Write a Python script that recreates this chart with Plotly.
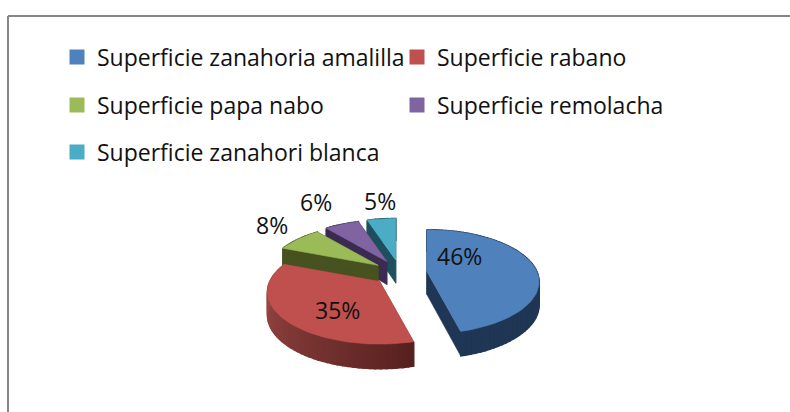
import math
import plotly.graph_objects as go

categories = ["Superficie zanahoria amalilla", "Superficie rabano", "Superficie papa nabo",
              "Superficie remolacha", "Superficie zanahori blanca"]
values = [46, 35, 8, 6, 5]
top_colors = ["#4f81bd", "#c0504d", "#9bbb59", "#8064a2", "#4bacc6"]
wall_colors = ["#1f3654", "#8a3d3a", "#46521f", "#3b2b52", "#1d4f5c"]

W, H = 790, 412
CX, CY = 400, 273      # pie centre in the pixel-like axis
EX, EY = 27, 13        # explosion offset
A, C, B = 110, 50, 0.2 # ellipse radii and perspective
DEPTH = 23

def project(theta):
    u, v = math.sin(theta), -math.cos(theta)
    k = 1 / (1 - B * v)
    return A * u * k, C * v * k, k ** 0.3

def lerp_color(c1, c2, t):
    a = [int(c1[i:i+2], 16) for i in (1, 3, 5)]
    b = [int(c2[i:i+2], 16) for i in (1, 3, 5)]
    return "#" + "".join(f"{round(x + (y - x) * t):02x}" for x, y in zip(a, b))

def poly(xs, ys, color, width=0.6):
    return go.Scatter(x=xs, y=ys, mode="lines", fill="toself", fillcolor=color,
                      line=dict(color=color, width=width), showlegend=False, hoverinfo="skip")

total = sum(values)
spans, acc = [], 0
for val in values:
    spans.append((acc / total * 2 * math.pi, (acc + val) / total * 2 * math.pi))
    acc += val

fig = go.Figure()
for i in [4, 3, 2, 0, 1]:   # back to front
    t0, t1 = spans[i]
    mid = (t0 + t1) / 2
    ax = CX + EX * math.sin(mid)
    ay = CY - EY * math.cos(mid)
    n = max(6, int((t1 - t0) / 0.04))
    thetas = [t0 + (t1 - t0) * j / n for j in range(n + 1)]
    pts = [project(t) for t in thetas]
    outer = [(ax + p[0], ay + p[1], p[2]) for p in pts]
    # radial walls
    for p in (outer[0], outer[-1]):
        fig.add_trace(poly([ax, p[0], p[0], ax, ax],
                           [ay, p[1], p[1] + DEPTH * p[2], ay + DEPTH, ay], wall_colors[i]))
    # outer wall strip
    for j in range(n):
        p, q = outer[j], outer[j + 1]
        if i == 1:
            col = lerp_color("#56211f", "#a84f4b", (j / (n - 1)) ** 0.9)
        else:
            col = wall_colors[i]
        fig.add_trace(poly([p[0], q[0], q[0], p[0], p[0]],
                           [p[1], q[1], q[1] + DEPTH * q[2], p[1] + DEPTH * p[2], p[1]], col, 1.5))
    # top face
    fig.add_trace(poly([ax] + [p[0] for p in outer] + [ax],
                       [ay] + [p[1] for p in outer] + [ay], top_colors[i]))

FONT = "Open Sans"
legend_pos = [(57, 57), (397, 57), (57, 105), (397, 105), (57, 152)]
layout_legends = {}
for i, name in enumerate(categories):
    key = "legend" if i == 0 else f"legend{i + 1}"
    fig.add_trace(go.Scatter(x=[None], y=[None], mode="markers", name=name, legend=key,
                             marker=dict(symbol="square", size=15, color=top_colors[i])))
    layout_legends[key] = dict(x=legend_pos[i][0] / W, y=1 - legend_pos[i][1] / H,
                               xanchor="left", yanchor="middle", bgcolor="rgba(0,0,0,0)",
                               font=dict(family=FONT, size=23, color="#111111"),
                               itemsizing="trace", borderwidth=0)

label_xy = [(459, 256), (337, 310), (272, 225), (316, 202), (380, 201)]
annotations = [dict(x=x, y=y, xref="x", yref="y", text=f"{val}%", showarrow=False,
                    font=dict(family=FONT, size=23, color="#111111"))
               for (x, y), val in zip(label_xy, values)]

fig.update_layout(
    width=W, height=H, margin=dict(l=0, r=0, t=0, b=0), autosize=False,
    paper_bgcolor="white", plot_bgcolor="white", annotations=annotations,
    xaxis=dict(range=[0, W], visible=False, fixedrange=True),
    yaxis=dict(range=[H, 0], visible=False, fixedrange=True),
    shapes=[
        dict(type="line", x0=8, x1=8, y0=16, y1=H, xref="x", yref="y", line=dict(color="#868686", width=2)),
        dict(type="line", x0=8, x1=W, y0=16, y1=16, xref="x", yref="y", line=dict(color="#868686", width=2)),
    ],
    **layout_legends,
)
fig.write_html("out.html", config=dict(displayModeBar=False),
               post_script="document.body.style.margin='0';")
